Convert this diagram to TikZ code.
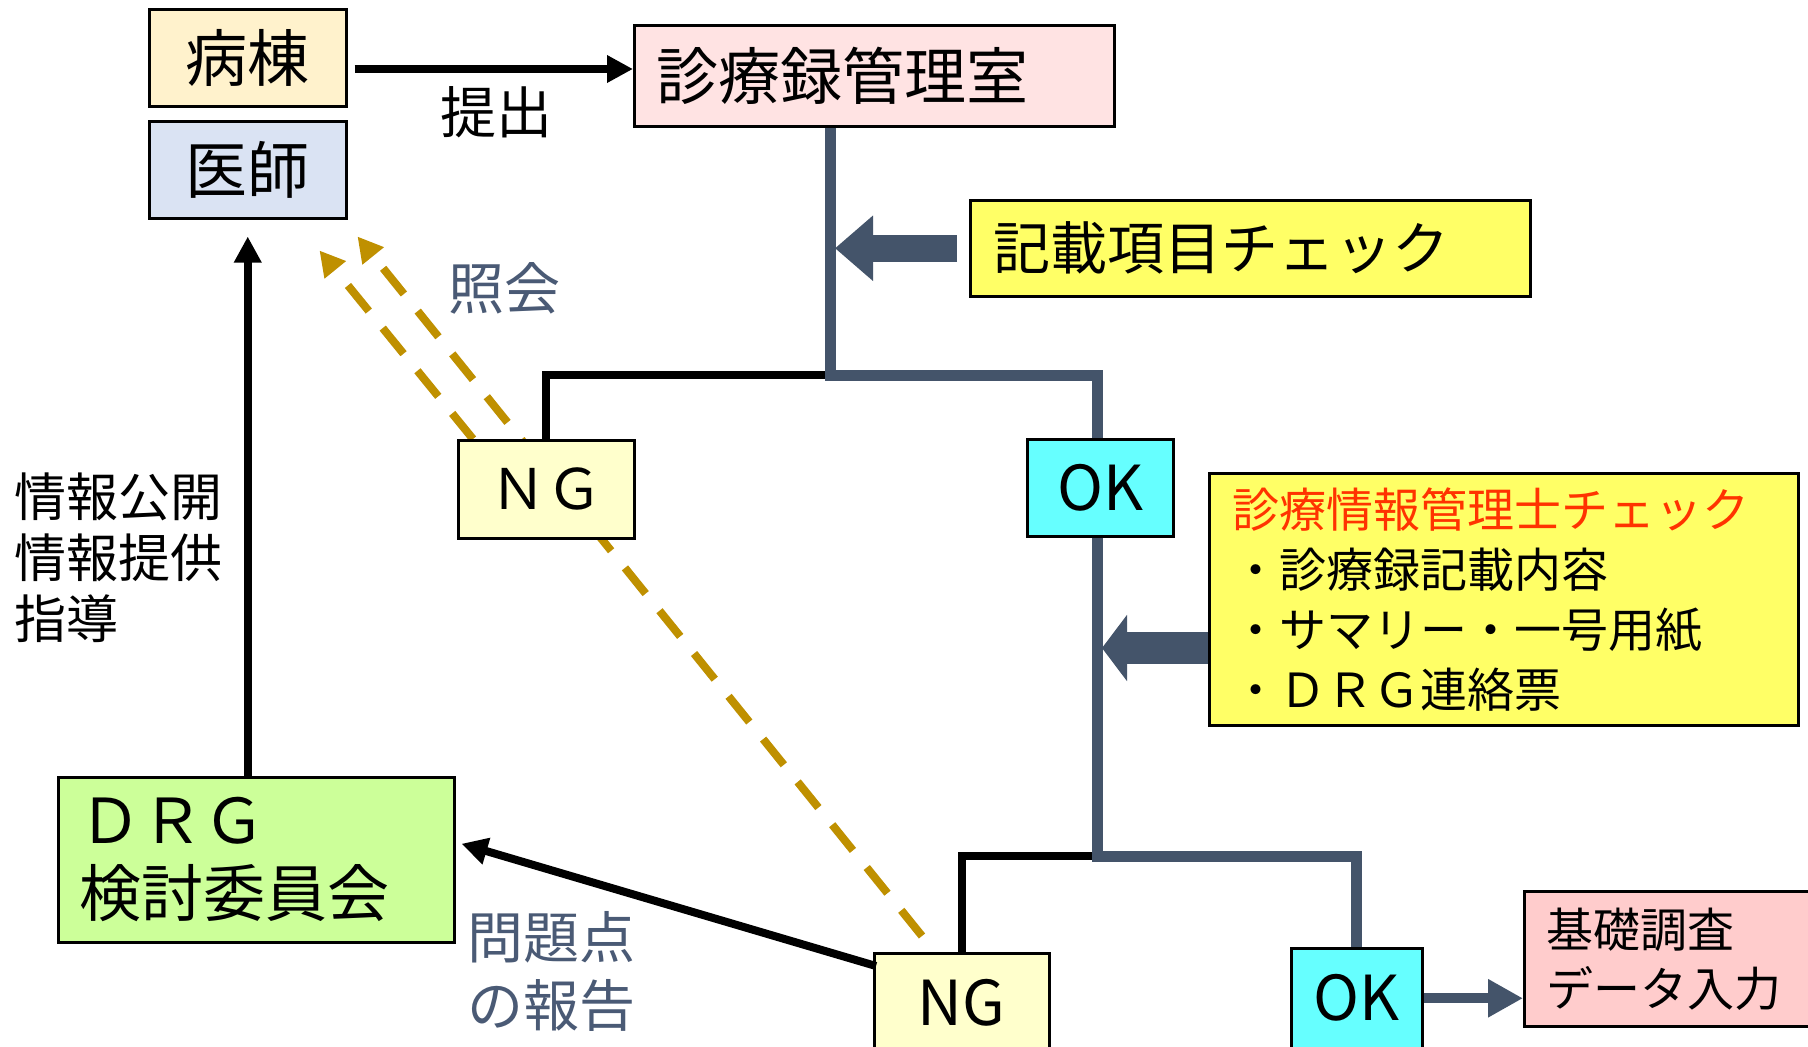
\documentclass[tikz,border=0pt]{standalone}
\usepackage{fontspec}
\setmainfont{Noto Sans CJK JP}
\usetikzlibrary{arrows.meta,calc}
\definecolor{slate}{HTML}{44546A}
\definecolor{gold}{HTML}{BF9000}
\definecolor{byotofill}{HTML}{FFF2CC}
\definecolor{ishifill}{HTML}{DAE3F3}
\definecolor{pinkfill}{HTML}{FFE3E3}
\definecolor{yel}{HTML}{FFFF66}
\definecolor{ngfill}{HTML}{FFFFCC}
\definecolor{okfill}{HTML}{66FFFF}
\definecolor{rosefill}{HTML}{FFCCCC}
\definecolor{greenfill}{HTML}{CCFF99}
\definecolor{redtext}{HTML}{FF3300}
\definecolor{labelc}{HTML}{4A5A75}
\newcommand\fsz[2]{\fontsize{#1}{#2}\selectfont}
\pgfdeclarelayer{bg}
\pgfsetlayers{bg,main}
\begin{document}
\begin{tikzpicture}[x=1pt,y=-1pt,
  box/.style={draw=black,line width=2.5pt,inner sep=0pt,anchor=north west},
  blk/.style={draw=black,line width=8pt,line join=miter},
  sl/.style={draw=slate,line width=11pt,line join=miter},
  blkarrow/.style={blk,-{Triangle[length=26pt,width=26pt]}},
  goldarrow/.style={draw=gold,line width=8pt,dash pattern=on 33pt off 22pt,-{Triangle[length=25pt,width=26pt]}},
  lbl/.style={text=labelc,inner sep=0pt}]
\useasboundingbox (0,0) rectangle (1808,1047);

% boxes
\node[box,fill=byotofill,minimum width=197pt,minimum height=97pt,font=\fsz{62}{70}] (byoto) at (148,8) {病棟};
\node[box,fill=ishifill,minimum width=197pt,minimum height=97pt,font=\fsz{62}{70}] (ishi) at (148,120) {医師};
\node[box,fill=pinkfill,minimum height=101pt,text width=436pt,inner xsep=22pt,align=left,font=\fsz{62}{70}] (kanri) at (633,24) {診療録管理室};
\node[box,fill=yel,minimum height=96pt,text width=514pt,inner xsep=23pt,align=left,font=\fsz{57}{64}] (kiroku) at (969,199) {記載項目チェック};
\node[box,fill=ngfill,minimum width=176pt,minimum height=98pt,font=\fsz{56}{64}] (ng1) at (457,439) {ＮＧ};
\node[box,fill=okfill,minimum width=146pt,minimum height=97pt,font=\fsz{62}{70}] (ok1) at (1026,438) {OK};
\node[box,fill=yel,minimum height=252pt,text width=543pt,inner xsep=23pt,align=left,font=\fsz{47}{60}] (shikaku) at (1208,472)
  {\textcolor{redtext}{診療情報管理士チェック}\\・診療録記載内容\\・サマリー・一号用紙\\・ＤＲＧ連絡票};
\node[box,fill=ngfill,minimum width=175pt,minimum height=100pt,font=\fsz{62}{70}] (ng2) at (873,952) {NG};
\node[box,fill=okfill,minimum width=131pt,minimum height=100pt,font=\fsz{62}{70}] (ok2) at (1290,947) {OK};
\node[box,fill=rosefill,minimum height=135pt,text width=241pt,inner xsep=22pt,align=left,font=\fsz{47}{59}] (kiso) at (1523,890) {基礎調査\\データ入力};
\node[box,fill=greenfill,minimum height=165pt,text width=354pt,inner xsep=21pt,align=left,font=\fsz{62}{73}] (drg) at (57,776) {ＤＲＧ\\検討委員会};

% labels
\node[inner sep=0pt,font=\fsz{56}{64}] (teishutsu) at (496,112) {提出};
\node[lbl,font=\fsz{56}{64}] (shokai) at (504,288) {照会};
\node[inner sep=0pt,anchor=west,align=left,font=\fsz{52}{61}] (joho) at (14,558) {情報公開\\情報提供\\指導};
\node[lbl,anchor=west,align=left,font=\fsz{56}{68}] (mondai) at (467,971) {問題点\\の報告};

% junctions
\coordinate (j1) at (830,375);
\coordinate (j2) at (1097,856);

% tree connectors
\draw[blk] (j1) -- (j1 -| ng1.north) -- (ng1.north);
\draw[sl] (kanri.south -| j1) -- (j1) -- (j1 -| j2) -- (ok1.north -| j2);
\draw[blk] (j2) -- (j2 -| ng2.north) -- (ng2.north);
\draw[sl] (ok1.south -| j2) -- (j2) -- (j2 -| ok2.north) -- (ok2.north);

% block arrows
\draw[slate,line width=27pt,-{Triangle[length=38pt,width=63pt]},shorten <=12pt] (kiroku.west) -- (kiroku.west -| 835,0);
\draw[slate,line width=32pt,-{Triangle[length=25pt,width=65pt]}] (shikaku.west |- 0,648) -- (1102,648);
\draw[slate,line width=10pt,-{Triangle[length=35pt,width=36pt]}] (ok2.east) -- (ok2.east -| kiso.west);

% black arrows
\draw[blkarrow,shorten <=7pt] (byoto.east |- 0,69) -- (kanri.west |- 0,69);
\draw[blkarrow,shorten >=17pt] (ishi.south |- drg.north) -- (ishi.south);
\draw[blkarrow] ($(ng2.north west)+(3,14)$) -- ($(drg.east)+(6,-16)$);

% dashed gold arrows (behind boxes)
\begin{pgfonlayer}{bg}
\fill[white] (0,0) rectangle (1808,1047);
\draw[goldarrow] ($(ng1.north west)+(16,0)$) -- ($(ishi.south east)+(-28,31)$);
\draw[goldarrow] ($(ng2.north west)+(49,-16)$) -- ($(ishi.south east)+(10,17)$);
\end{pgfonlayer}
\end{tikzpicture}
\end{document}
